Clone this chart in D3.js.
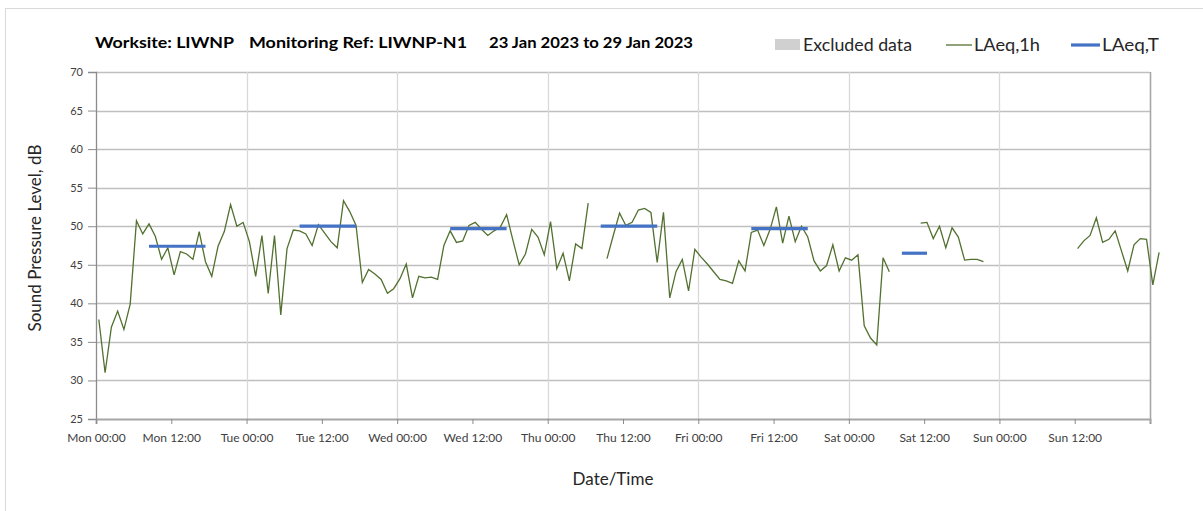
<!DOCTYPE html>
<html><head><meta charset="utf-8">
<script src="https://cdn.jsdelivr.net/npm/d3@7"></script>
<style>
body{margin:0;background:#fff;}
svg{display:block;font-family:Lato,"Open Sans",sans-serif;}
</style></head>
<body><svg id="chart" width="1203" height="511"></svg>
<script>
// ---- data ----
const titleParts = ["Worksite: LIWNP", "Monitoring Ref: LIWNP-N1", "23 Jan 2023 to 29 Jan 2023"];
const startTime = new Date(2023, 0, 23, 0, 0);
const endTime = new Date(2023, 0, 30, 0, 0);
// hourly LAeq,1h values from Mon 00:00 (null = no data)
const laeq1h = [
 37.9,31.0,36.9,39.0,36.6,39.9,50.7,49.0,50.3,48.7,45.7,47.2,43.7,46.7,46.4,45.7,49.3,45.4,43.5,47.4,49.3,52.8,50.0,50.5,
 48.0,43.5,48.8,41.3,48.8,38.5,47.1,49.5,49.4,49.0,47.5,50.2,49.1,48.0,47.2,53.3,51.9,50.1,42.7,44.4,43.8,43.1,41.3,41.9,
 43.2,45.1,40.7,43.5,43.3,43.4,43.1,47.5,49.4,47.9,48.1,50.1,50.5,49.6,48.8,49.4,49.9,51.5,48.2,45.0,46.4,49.6,48.6,46.3,
 50.6,44.5,46.5,42.9,47.7,47.1,53.0,null,null,45.8,48.8,51.7,50.1,50.5,52.1,52.3,51.8,45.3,51.8,40.7,44.1,45.7,41.6,47.0,
 46.0,45.1,44.1,43.1,42.9,42.6,45.5,44.2,49.2,49.5,47.5,49.6,52.5,47.8,51.3,48.0,50.0,48.6,45.5,44.2,44.9,47.6,44.2,45.9,
 45.6,46.3,37.1,35.5,34.6,45.9,44.1,null,null,null,null,50.4,50.5,48.4,50.0,47.2,49.8,48.6,45.6,45.7,45.7,45.4,null,null,
 null,null,null,null,null,null,null,null,null,null,null,null,47.1,48.1,48.8,51.1,47.9,48.3,49.4,46.8,44.2,47.6,48.4,48.3,42.4,46.6
];
// LAeq,T periods: start hour index, end hour index, level
const laeqTStart = [8, 32, 56, 80, 104, 128];
const laeqTEnd   = [17, 41, 65, 89, 113, 132];
const laeqTValue = [47.4, 50.0, 49.7, 50.0, 49.7, 46.5];
const yTicks = [25,30,35,40,45,50,55,60,65,70];
const xTickLabels = ["Mon 00:00","Mon 12:00","Tue 00:00","Tue 12:00","Wed 00:00","Wed 12:00","Thu 00:00","Thu 12:00","Fri 00:00","Fri 12:00","Sat 00:00","Sat 12:00","Sun 00:00","Sun 12:00"];
const legendLabels = ["Excluded data","LAeq,1h","LAeq,T"];

// ---- layout ----
const svg = d3.select("#chart");
const L = 96, R = 1150, T = 72, B = 419;
const hourMs = 3600e3;
const x = d3.scaleTime().domain([startTime, endTime]).range([L, R]);
const y = d3.scaleLinear().domain([25, 70]).range([B, T]);
const tAt = h => new Date(startTime.getTime() + h * hourMs);
const ptTime = i => tAt(i + 0.45);

// outer border
svg.append("rect").attr("x",5.5).attr("y",8.5).attr("width",1210).attr("height",520)
  .attr("fill","none").attr("stroke","#d9d9d9");

// horizontal grid
svg.append("g").selectAll("line").data(yTicks.filter(v=>v>25)).join("line")
  .attr("x1",L).attr("x2",R).attr("y1",d=>Math.round(y(d))+0.5).attr("y2",d=>Math.round(y(d))+0.5)
  .attr("stroke","#bfbfbf").attr("stroke-width",1.3);
// vertical grid at day boundaries
const dayTicks = d3.range(1,8).map(d=>tAt(d*24));
svg.append("g").selectAll("line").data(dayTicks).join("line")
  .attr("x1",d=>Math.round(x(d))+0.5).attr("x2",d=>Math.round(x(d))+0.5).attr("y1",T).attr("y2",B)
  .attr("stroke","#d9d9d9").attr("stroke-width",1.3);

// y axis
const yAxis = d3.axisLeft(y).tickValues(yTicks).tickSize(8).tickPadding(5);
const gy = svg.append("g").attr("transform",`translate(${L},0)`).call(yAxis);
gy.select(".domain").attr("stroke","#8c8c8c").attr("stroke-width",1.3);
gy.selectAll(".tick line").attr("stroke","#8c8c8c");
gy.selectAll(".tick text").attr("fill","#404040").style("font-size","11px").style("font-family","Lato");

// x axis
const xTicks = d3.range(0,15).map(k=>tAt(k*12));
const xAxis = d3.axisBottom(x).tickValues(xTicks).tickSize(5).tickPadding(9)
  .tickFormat((d,i)=> xTickLabels[i] || "");
const gx = svg.append("g").attr("transform",`translate(0,${B})`).call(xAxis);
gx.select(".domain").attr("stroke","#a6a6a6").attr("stroke-width",2);
gx.selectAll(".tick line").attr("stroke","#8c8c8c");
gx.selectAll(".tick text").attr("fill","#404040").style("font-size","12px").style("font-family","Lato");

// right border of plot
svg.append("line").attr("x1",R+0.5).attr("x2",R+0.5).attr("y1",T).attr("y2",B+4)
  .attr("stroke","#a6a6a6").attr("stroke-width",1.5);

// LAeq,1h line
const line = d3.line().defined(d=>d.v!==null).x(d=>x(ptTime(d.i))).y(d=>y(d.v));
svg.append("path").datum(laeq1h.map((v,i)=>({i,v})))
  .attr("d",line).attr("fill","none").attr("stroke","#52702f").attr("stroke-width",1.3);

// LAeq,T segments
svg.append("g").selectAll("line").data(laeqTValue).join("line")
  .attr("x1",(d,i)=>x(ptTime(laeqTStart[i]))).attr("x2",(d,i)=>x(ptTime(laeqTEnd[i])))
  .attr("y1",d=>y(d)).attr("y2",d=>y(d))
  .attr("stroke","#4472c4").attr("stroke-width",3.2);

// title
const titleX = [95, 249, 489];
const titleW = [139, 218, 204];
svg.append("g").selectAll("text").data(titleParts).join("text")
  .attr("x",(d,i)=>titleX[i]).attr("y",48)
  .attr("font-weight","bold").attr("font-size","16px").attr("fill","#000")
  .attr("textLength",(d,i)=>titleW[i]).attr("lengthAdjust","spacingAndGlyphs")
  .text(d=>d);

// legend
svg.append("rect").attr("x",775).attr("y",39).attr("width",25).attr("height",11).attr("fill","#d0d0d0");
svg.append("line").attr("x1",946).attr("x2",972).attr("y1",45).attr("y2",45).attr("stroke","#52702f").attr("stroke-width",1.3);
svg.append("line").attr("x1",1071).attr("x2",1100).attr("y1",45).attr("y2",45).attr("stroke","#4472c4").attr("stroke-width",3.2);
const legX = [803, 974, 1102];
const legW = [109, 66, 57];
svg.append("g").selectAll("text").data(legendLabels).join("text")
  .attr("x",(d,i)=>legX[i]).attr("y",51).attr("font-size","17px").attr("fill","#262626")
  .attr("textLength",(d,i)=>legW[i]).attr("lengthAdjust","spacingAndGlyphs")
  .text(d=>d);

// axis titles
svg.append("text").attr("transform","translate(41,238) rotate(-90)").attr("text-anchor","middle")
  .attr("font-size","17px").attr("fill","#262626").text("Sound Pressure Level, dB");
svg.append("text").attr("x",613).attr("y",485).attr("text-anchor","middle")
  .attr("font-size","17px").attr("fill","#262626").text("Date/Time");
</script></body></html>
